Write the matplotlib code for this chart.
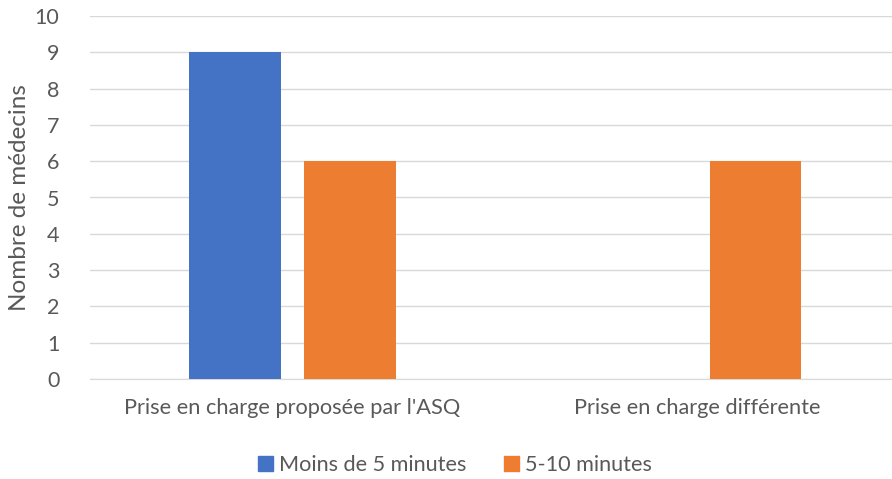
import numpy as np
import matplotlib.pyplot as plt
from matplotlib.patches import Patch

categories = ["Prise en charge proposée par l'ASQ", "Prise en charge différente"]
moins_5 = [9, 0]
de_5_10 = [6, 6]
series_names = ["Moins de 5 minutes", "5-10 minutes"]

plt.rcParams['font.family'] = ['Lato', 'DejaVu Sans']
gray = '#595959'

fig = plt.figure(figsize=(8.92, 4.79), dpi=100)
ax = fig.add_axes([90/892, 1-379/479, 1-90/892, (379-16)/479])

x = np.arange(len(categories))
w = 0.225
off = 0.142
ax.bar(x - off, moins_5, w, color='#4472C4', zorder=3)
ax.bar(x + off, de_5_10, w, color='#ED7D31', zorder=3)

ax.set_xlim(-0.5, 1.48)
ax.set_ylim(0, 10)
ax.set_yticks(range(0, 11))
ax.yaxis.grid(True, color='#D9D9D9', linewidth=1, zorder=0)
ax.set_xticks(x)
ax.set_xticklabels(categories, fontsize=15.7, color=gray)
ax.tick_params(axis='y', labelsize=15.5, colors=gray, length=0, pad=22)
ax.tick_params(axis='x', length=0, pad=14)
for s in ['top', 'right', 'left']:
    ax.spines[s].set_visible(False)
ax.spines['bottom'].set_color('#D9D9D9')
ax.set_ylabel('Nombre de médecins', fontsize=17.5, color=gray, labelpad=3.5)

handles = [Patch(color='#4472C4'), Patch(color='#ED7D31')]
fig.legend(handles, series_names, loc='center', bbox_to_anchor=(0.51, 1-465/479),
           ncol=2, frameon=False, fontsize=15.6, handlelength=0.7, handleheight=0.7,
           handletextpad=0.3, columnspacing=1.7, labelcolor=gray)

fig.savefig('out.png', dpi=100)
